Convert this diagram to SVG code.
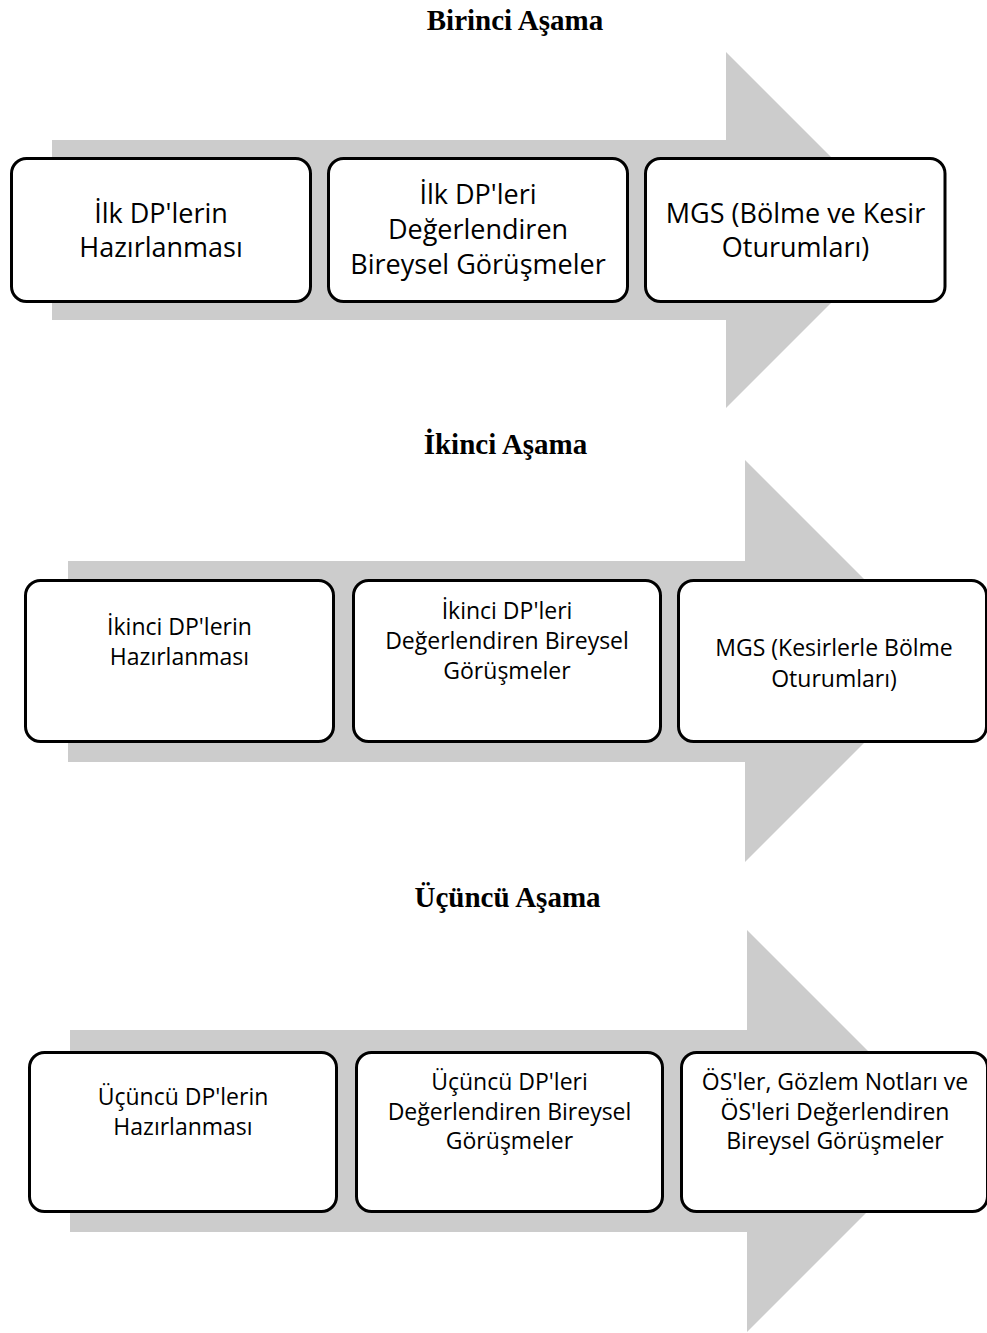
<svg xmlns="http://www.w3.org/2000/svg" width="987" height="1333" viewBox="0 0 987 1333">
<style>
.bg{fill:#ffffff}
.arrow{fill:#cccccc;stroke:none}
.box{fill:#ffffff;stroke:#000000;stroke-width:3}
.title{font-family:"Liberation Serif","Times New Roman",serif;font-weight:bold;font-size:29px;fill:#000;text-anchor:middle}
.t1{font-family:"Open Sans","Noto Sans",sans-serif;font-size:27px;fill:#000;text-anchor:middle}
.t2{font-family:"Open Sans","Noto Sans",sans-serif;font-size:23px;fill:#000;text-anchor:middle}
</style>
<rect class="bg" x="0" y="0" width="987" height="1333"/>
<g id="titles">
<text class="title" x="515" y="30">Birinci Aşama</text>
<text class="title" x="505.5" y="454">İkinci Aşama</text>
<text class="title" x="507.5" y="907">Üçüncü Aşama</text>
</g>
<g id="stage-arrows">
<polygon class="arrow" points="52,140 726,140 726,52 904,230 726,408 726,320 52,320"/>
<polygon class="arrow" points="68,561 745,561 745,460 946,661 745,862 745,762 68,762"/>
<polygon class="arrow" points="70,1030 747,1030 747,930 948,1131 747,1332 747,1232 70,1232"/>
</g>
<g id="s1-box1">
<rect class="box" x="11.5" y="158.5" width="299" height="143" rx="15"/>
<text class="t1" x="161" y="223">İlk DP'lerin</text>
<text class="t1" x="161" y="257">Hazırlanması</text>
</g>
<g id="s1-box2">
<rect class="box" x="328.5" y="158.5" width="299" height="143" rx="15"/>
<text class="t1" x="478" y="204">İlk DP'leri</text>
<text class="t1" x="478" y="239">Değerlendiren</text>
<text class="t1" x="478" y="274">Bireysel Görüşmeler</text>
</g>
<g id="s1-box3">
<rect class="box" x="645.5" y="158.5" width="299.5" height="143" rx="15"/>
<text class="t1" x="795.5" y="223">MGS (Bölme ve Kesir</text>
<text class="t1" x="795.5" y="257">Oturumları)</text>
</g>
<g id="s2-box1">
<rect class="box" x="25.5" y="580.5" width="308" height="161" rx="15"/>
<text class="t2" x="179.5" y="635">İkinci DP'lerin</text>
<text class="t2" x="179.5" y="665">Hazırlanması</text>
</g>
<g id="s2-box2">
<rect class="box" x="353.5" y="580.5" width="307" height="161" rx="15"/>
<text class="t2" x="507" y="619">İkinci DP'leri</text>
<text class="t2" x="507" y="649">Değerlendiren Bireysel</text>
<text class="t2" x="507" y="679">Görüşmeler</text>
</g>
<g id="s2-box3">
<rect class="box" x="678.5" y="580.5" width="308" height="161" rx="15"/>
<text class="t2" x="834" y="656">MGS (Kesirlerle Bölme</text>
<text class="t2" x="834" y="687">Oturumları)</text>
</g>
<g id="s3-box1">
<rect class="box" x="29.5" y="1052.5" width="307" height="159" rx="15"/>
<text class="t2" x="183" y="1105">Üçüncü DP'lerin</text>
<text class="t2" x="183" y="1135">Hazırlanması</text>
</g>
<g id="s3-box2">
<rect class="box" x="356.5" y="1052.5" width="306" height="159" rx="15"/>
<text class="t2" x="509.5" y="1090">Üçüncü DP'leri</text>
<text class="t2" x="509.5" y="1120">Değerlendiren Bireysel</text>
<text class="t2" x="509.5" y="1149">Görüşmeler</text>
</g>
<g id="s3-box3">
<rect class="box" x="681.5" y="1052.5" width="306" height="159" rx="15"/>
<text class="t2" x="835" y="1090">ÖS'ler, Gözlem Notları ve</text>
<text class="t2" x="835" y="1120">ÖS'leri Değerlendiren</text>
<text class="t2" x="835" y="1149">Bireysel Görüşmeler</text>
</g>
</svg>
